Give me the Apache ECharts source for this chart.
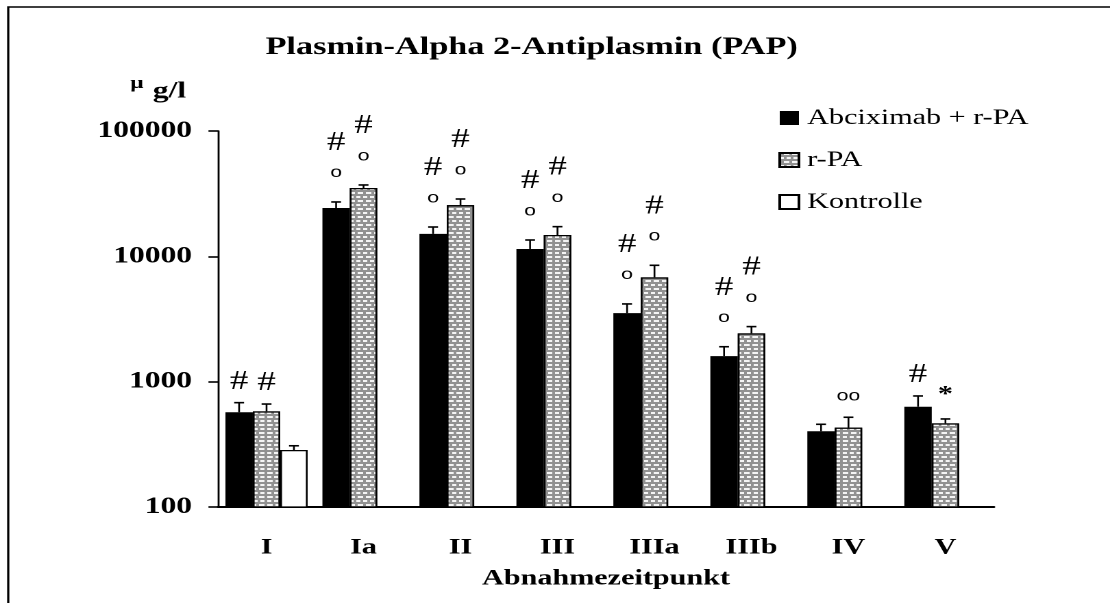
<!DOCTYPE html>
<html>
<head>
<meta charset="utf-8">
<title>Plasmin-Alpha 2-Antiplasmin (PAP)</title>
<script src="https://cdn.jsdelivr.net/npm/echarts@6/dist/echarts.min.js"></script>
<style>
  html, body { margin: 0; padding: 0; background: #fff; overflow: hidden; }
  /* the chart is laid out narrow and widened horizontally, like the original slide graphic */
  #main { width: 810px; height: 603px; transform: scaleX(1.37037); transform-origin: 0 0; }
</style>
</head>
<body>
<div id="main"></div>
<script>
// Sampling time points
const categories = ['I', 'Ia', 'II', 'III', 'IIIa', 'IIIb', 'IV', 'V'];

// PAP (µg/l), mean and SEM per group
const abcMean = [570, 24300, 15100, 11450, 3520, 1600, 402, 631];
const abcSem  = [110, 2850, 2040, 2050, 650, 300, 55, 138];
const rpaMean = [580, 35100, 25600, 14800, 6800, 2430, 430, 465];
const rpaSem  = [83, 2000, 3070, 2450, 1680, 320, 90, 39];
const ctrlMean = [285, null, null, null, null, null, null, null];
const ctrlSem  = [23, null, null, null, null, null, null, null];

// significance marks above each bar, listed top to bottom
const abcMarks  = [['#'], ['#', 'o'], ['#', 'o'], ['#', 'o'], ['#', 'o'], ['#', 'o'], [], ['#']];
const rpaMarks  = [['#'], ['#', 'o'], ['#', 'o'], ['#', 'o'], ['#', 'o'], ['#', 'o'], ['oo'], ['*']];
const ctrlMarks = [[], [], [], [], [], [], [], []];

const seriesNames = ['Abciximab + r-PA', 'r-PA', 'Kontrolle'];
const yTicks = [100, 1000, 10000, 100000];

const SERIF = '"Liberation Serif", "Times New Roman", serif';
const SANS = '"Liberation Sans", Arial, sans-serif';
const BAR_W = 20;

const glyphStyle = {
  '#':  { fontSize: 27, fontFamily: SERIF, fontWeight: 'normal', dy: -21 },
  'o':  { fontSize: 15.5, fontFamily: SANS,  fontWeight: 'normal', dy: -29 },
  'oo': { fontSize: 15.5, fontFamily: SANS,  fontWeight: 'normal', dy: -21 },
  '*':  { fontSize: 22, fontFamily: SERIF, fontWeight: 'bold',   dy: -24 }
};

// error bar (upper whisker) plus significance marks for one bar series
function whiskerSeries(means, sems, marks, slot) {
  const data = [];
  means.forEach((m, i) => { if (m != null) data.push([i, m, sems[i]]); });
  return {
    type: 'custom',
    z: 5,
    clip: false,
    encode: { x: 0, y: 1 },
    data: data,
    renderItem: function (params, api) {
      const cat = api.value(0), m = api.value(1), s = api.value(2);
      const base = api.coord([cat, m]);
      const top = api.coord([cat, m + s]);
      const x = base[0] + (slot - 1) * BAR_W;
      const children = [
        { type: 'line', shape: { x1: x, y1: base[1], x2: x, y2: top[1] },
          style: { stroke: '#000', lineWidth: 1.3 } },
        { type: 'line', shape: { x1: x - 3.6, y1: top[1], x2: x + 3.6, y2: top[1] },
          style: { stroke: '#000', lineWidth: 1.6 } }
      ];
      const list = marks[cat] || [];
      let y = null;
      for (let k = list.length - 1; k >= 0; k--) {
        const g = glyphStyle[list[k]];
        y = (y === null) ? top[1] + g.dy : y - 30;
        children.push({
          type: 'text',
          style: {
            text: list[k], x: x, y: y, fill: '#000',
            fontSize: g.fontSize, fontFamily: g.fontFamily, fontWeight: g.fontWeight,
            align: 'center', verticalAlign: 'middle'
          }
        });
      }
      return { type: 'group', children: children };
    }
  };
}

const chart = echarts.init(document.getElementById('main'), null, { renderer: 'canvas', devicePixelRatio: 2 });

const option = {
  animation: false,
  backgroundColor: '#fff',
  title: {
    text: 'Plasmin-Alpha 2-Antiplasmin (PAP)',
    left: 388, top: 35, textAlign: 'center', padding: 0,
    textStyle: { fontFamily: SERIF, fontWeight: 'bold', fontSize: 25, color: '#000' }
  },
  legend: {
    data: seriesNames,
    orient: 'vertical',
    left: 568, top: 107,
    padding: 0,
    itemWidth: 14, itemHeight: 14, itemGap: 20,
    icon: 'rect',
    selectedMode: false,
    textStyle: { fontFamily: SERIF, fontSize: 22, color: '#000', lineHeight: 22, padding: [0, 0, 0, 1] }
  },
  grid: { left: 159.1, top: 131, width: 566.2, height: 376 },
  xAxis: {
    type: 'category',
    data: categories,
    axisLine: { lineStyle: { color: '#000', width: 2 } },
    axisTick: { length: 9, lineStyle: { color: '#000', width: 1.4 } },
    axisLabel: { margin: 30, fontFamily: SERIF, fontWeight: 'bold', fontSize: 22, color: '#000' },
    name: 'Abnahmezeitpunkt',
    nameLocation: 'middle',
    nameGap: 61,
    nameTextStyle: { fontFamily: SERIF, fontWeight: 'bold', fontSize: 22, color: '#000' }
  },
  yAxis: {
    type: 'log',
    logBase: 10,
    min: yTicks[0],
    max: yTicks[yTicks.length - 1],
    axisLine: { show: true, lineStyle: { color: '#000', width: 1.4 } },
    axisTick: { show: true, length: 7, lineStyle: { color: '#000', width: 1.6 } },
    splitLine: { show: false },
    axisLabel: {
      margin: 19, fontFamily: SERIF, fontWeight: 'bold', fontSize: 23, color: '#000',
      formatter: function (v) { return String(Math.round(v)); }
    }
  },
  graphic: [
    { type: 'rect', silent: true, shape: { x: 6, y: 7, width: 1400, height: 1400 },
      style: { fill: 'none', stroke: '#000', lineWidth: 1.6 } },
    { type: 'text', left: 95, top: 75, silent: true,
      style: { text: 'µ', fontFamily: SERIF, fontWeight: 'bold', fontSize: 17, fill: '#000' } },
    { type: 'text', left: 111.5, top: 80, silent: true,
      style: { text: 'g/l', fontFamily: SERIF, fontWeight: 'bold', fontSize: 23, fill: '#000' } }
  ],
  series: [
    { name: seriesNames[0], type: 'bar', data: abcMean, barWidth: BAR_W, barGap: '0%',
      itemStyle: { color: '#000' } },
    { name: seriesNames[1], type: 'bar', data: rpaMean, barWidth: BAR_W, barGap: '0%',
      itemStyle: {
        color: '#919191', borderColor: '#000', borderWidth: 1.3,
        decal: {
          symbol: 'rect', symbolSize: 1, color: '#f4f4f4', backgroundColor: '#919191',
          dashArrayX: [[3, 2], [0.5, 2, 2.5, 0]], dashArrayY: [2, 2], rotation: 0
        }
      } },
    { name: seriesNames[2], type: 'bar', data: ctrlMean, barWidth: BAR_W, barGap: '0%',
      itemStyle: { color: '#fff', borderColor: '#000', borderWidth: 1.3 } },
    whiskerSeries(abcMean, abcSem, abcMarks, 0),
    whiskerSeries(rpaMean, rpaSem, rpaMarks, 1),
    whiskerSeries(ctrlMean, ctrlSem, ctrlMarks, 2)
  ]
};

chart.setOption(option);
</script>
</body>
</html>
